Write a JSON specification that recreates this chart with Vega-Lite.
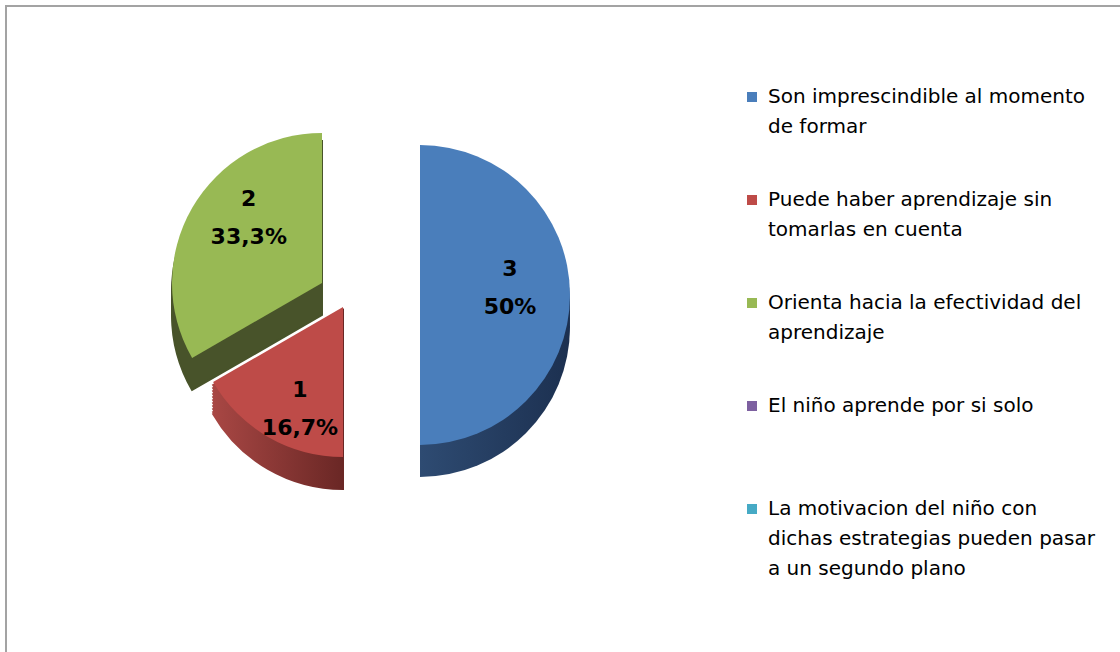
{
  "$schema": "https://vega.github.io/schema/vega-lite/v6.json",
  "width": 1122,
  "height": 654,
  "autosize": {"type": "none"},
  "padding": {"left": 6, "top": 6, "right": -8, "bottom": -8},
  "background": "white",
  "view": {"stroke": "#a3a3a3", "strokeWidth": 2},
  "config": {
    "view": {"stroke": "#a3a3a3", "strokeWidth": 2},
    "font": "DejaVu Sans",
    "style": {"guide-label": {"lineHeight": 30, "dy": -10}}
  },
  "data": {
    "values": [
      {"categoria": "Son imprescindible al momento de formar", "orden": 1, "n": 3, "pct": "50%"},
      {"categoria": "Puede haber aprendizaje sin tomarlas en cuenta", "orden": 2, "n": 1, "pct": "16,7%"},
      {"categoria": "Orienta hacia la efectividad del aprendizaje", "orden": 3, "n": 2, "pct": "33,3%"},
      {"categoria": "El niño aprende por si solo", "orden": 4, "n": 0, "pct": "0%"},
      {"categoria": "La motivacion del niño con dichas estrategias pueden pasar a un segundo plano", "orden": 5, "n": 0, "pct": "0%"}
    ]
  },
  "encoding": {
    "theta": {"field": "n", "type": "quantitative", "stack": true},
    "order": {"field": "orden", "type": "quantitative"}
  },
  "layer": [
    {"mark": {"type": "arc", "radius": 150, "xOffset": -245, "yOffset": -42, "color": "#48532a", "stroke": "#48532a", "strokeWidth": 2}, "encoding": {"detail": {"field": "categoria"}, "opacity": {"condition": {"test": "datum.orden === 3", "value": 1}, "value": 0}}},
    {"mark": {"type": "arc", "radius": 150, "xOffset": -245, "yOffset": -34, "color": "#48532a", "stroke": "#48532a", "strokeWidth": 2}, "encoding": {"detail": {"field": "categoria"}, "opacity": {"condition": {"test": "datum.orden === 3", "value": 1}, "value": 0}}},
    {"mark": {"type": "arc", "radius": 150, "xOffset": -245, "yOffset": -26, "color": "#48532a", "stroke": "#48532a", "strokeWidth": 2}, "encoding": {"detail": {"field": "categoria"}, "opacity": {"condition": {"test": "datum.orden === 3", "value": 1}, "value": 0}}},
    {"mark": {"type": "arc", "radius": 150, "xOffset": -245, "yOffset": -18, "color": "#48532a", "stroke": "#48532a", "strokeWidth": 2}, "encoding": {"detail": {"field": "categoria"}, "opacity": {"condition": {"test": "datum.orden === 3", "value": 1}, "value": 0}}},
    {"mark": {"type": "arc", "radius": 150, "xOffset": -224, "yOffset": -23, "strokeWidth": 2, "color": {"gradient": "linear", "x1": 0, "y1": 0, "x2": 1, "y2": 0, "stops": [{"offset": 0, "color": "#a84744"}, {"offset": 1, "color": "#6a2725"}]}, "stroke": {"gradient": "linear", "x1": 0, "y1": 0, "x2": 1, "y2": 0, "stops": [{"offset": 0, "color": "#a84744"}, {"offset": 1, "color": "#6a2725"}]}}, "encoding": {"detail": {"field": "categoria"}, "opacity": {"condition": {"test": "datum.orden === 2", "value": 1}, "value": 0}}},
    {"mark": {"type": "arc", "radius": 150, "xOffset": -224, "yOffset": -20, "strokeWidth": 2, "color": {"gradient": "linear", "x1": 0, "y1": 0, "x2": 1, "y2": 0, "stops": [{"offset": 0, "color": "#a84744"}, {"offset": 1, "color": "#6a2725"}]}, "stroke": {"gradient": "linear", "x1": 0, "y1": 0, "x2": 1, "y2": 0, "stops": [{"offset": 0, "color": "#a84744"}, {"offset": 1, "color": "#6a2725"}]}}, "encoding": {"detail": {"field": "categoria"}, "opacity": {"condition": {"test": "datum.orden === 2", "value": 1}, "value": 0}}},
    {"mark": {"type": "arc", "radius": 150, "xOffset": -224, "yOffset": -17, "strokeWidth": 2, "color": {"gradient": "linear", "x1": 0, "y1": 0, "x2": 1, "y2": 0, "stops": [{"offset": 0, "color": "#a84744"}, {"offset": 1, "color": "#6a2725"}]}, "stroke": {"gradient": "linear", "x1": 0, "y1": 0, "x2": 1, "y2": 0, "stops": [{"offset": 0, "color": "#a84744"}, {"offset": 1, "color": "#6a2725"}]}}, "encoding": {"detail": {"field": "categoria"}, "opacity": {"condition": {"test": "datum.orden === 2", "value": 1}, "value": 0}}},
    {"mark": {"type": "arc", "radius": 150, "xOffset": -224, "yOffset": -14, "strokeWidth": 2, "color": {"gradient": "linear", "x1": 0, "y1": 0, "x2": 1, "y2": 0, "stops": [{"offset": 0, "color": "#a84744"}, {"offset": 1, "color": "#6a2725"}]}, "stroke": {"gradient": "linear", "x1": 0, "y1": 0, "x2": 1, "y2": 0, "stops": [{"offset": 0, "color": "#a84744"}, {"offset": 1, "color": "#6a2725"}]}}, "encoding": {"detail": {"field": "categoria"}, "opacity": {"condition": {"test": "datum.orden === 2", "value": 1}, "value": 0}}},
    {"mark": {"type": "arc", "radius": 150, "xOffset": -224, "yOffset": -11, "strokeWidth": 2, "color": {"gradient": "linear", "x1": 0, "y1": 0, "x2": 1, "y2": 0, "stops": [{"offset": 0, "color": "#a84744"}, {"offset": 1, "color": "#6a2725"}]}, "stroke": {"gradient": "linear", "x1": 0, "y1": 0, "x2": 1, "y2": 0, "stops": [{"offset": 0, "color": "#a84744"}, {"offset": 1, "color": "#6a2725"}]}}, "encoding": {"detail": {"field": "categoria"}, "opacity": {"condition": {"test": "datum.orden === 2", "value": 1}, "value": 0}}},
    {"mark": {"type": "arc", "radius": 150, "xOffset": -224, "yOffset": -8, "strokeWidth": 2, "color": {"gradient": "linear", "x1": 0, "y1": 0, "x2": 1, "y2": 0, "stops": [{"offset": 0, "color": "#a84744"}, {"offset": 1, "color": "#6a2725"}]}, "stroke": {"gradient": "linear", "x1": 0, "y1": 0, "x2": 1, "y2": 0, "stops": [{"offset": 0, "color": "#a84744"}, {"offset": 1, "color": "#6a2725"}]}}, "encoding": {"detail": {"field": "categoria"}, "opacity": {"condition": {"test": "datum.orden === 2", "value": 1}, "value": 0}}},
    {"mark": {"type": "arc", "radius": 150, "xOffset": -224, "yOffset": -5, "strokeWidth": 2, "color": {"gradient": "linear", "x1": 0, "y1": 0, "x2": 1, "y2": 0, "stops": [{"offset": 0, "color": "#a84744"}, {"offset": 1, "color": "#6a2725"}]}, "stroke": {"gradient": "linear", "x1": 0, "y1": 0, "x2": 1, "y2": 0, "stops": [{"offset": 0, "color": "#a84744"}, {"offset": 1, "color": "#6a2725"}]}}, "encoding": {"detail": {"field": "categoria"}, "opacity": {"condition": {"test": "datum.orden === 2", "value": 1}, "value": 0}}},
    {"mark": {"type": "arc", "radius": 150, "xOffset": -224, "yOffset": -2, "strokeWidth": 2, "color": {"gradient": "linear", "x1": 0, "y1": 0, "x2": 1, "y2": 0, "stops": [{"offset": 0, "color": "#a84744"}, {"offset": 1, "color": "#6a2725"}]}, "stroke": {"gradient": "linear", "x1": 0, "y1": 0, "x2": 1, "y2": 0, "stops": [{"offset": 0, "color": "#a84744"}, {"offset": 1, "color": "#6a2725"}]}}, "encoding": {"detail": {"field": "categoria"}, "opacity": {"condition": {"test": "datum.orden === 2", "value": 1}, "value": 0}}},
    {"mark": {"type": "arc", "radius": 150, "xOffset": -224, "yOffset": 1, "strokeWidth": 2, "color": {"gradient": "linear", "x1": 0, "y1": 0, "x2": 1, "y2": 0, "stops": [{"offset": 0, "color": "#a84744"}, {"offset": 1, "color": "#6a2725"}]}, "stroke": {"gradient": "linear", "x1": 0, "y1": 0, "x2": 1, "y2": 0, "stops": [{"offset": 0, "color": "#a84744"}, {"offset": 1, "color": "#6a2725"}]}}, "encoding": {"detail": {"field": "categoria"}, "opacity": {"condition": {"test": "datum.orden === 2", "value": 1}, "value": 0}}},
    {"mark": {"type": "arc", "radius": 150, "xOffset": -224, "yOffset": 4, "strokeWidth": 2, "color": {"gradient": "linear", "x1": 0, "y1": 0, "x2": 1, "y2": 0, "stops": [{"offset": 0, "color": "#a84744"}, {"offset": 1, "color": "#6a2725"}]}, "stroke": {"gradient": "linear", "x1": 0, "y1": 0, "x2": 1, "y2": 0, "stops": [{"offset": 0, "color": "#a84744"}, {"offset": 1, "color": "#6a2725"}]}}, "encoding": {"detail": {"field": "categoria"}, "opacity": {"condition": {"test": "datum.orden === 2", "value": 1}, "value": 0}}},
    {"mark": {"type": "arc", "radius": 150, "xOffset": -224, "yOffset": 6, "strokeWidth": 2, "color": {"gradient": "linear", "x1": 0, "y1": 0, "x2": 1, "y2": 0, "stops": [{"offset": 0, "color": "#a84744"}, {"offset": 1, "color": "#6a2725"}]}, "stroke": {"gradient": "linear", "x1": 0, "y1": 0, "x2": 1, "y2": 0, "stops": [{"offset": 0, "color": "#a84744"}, {"offset": 1, "color": "#6a2725"}]}}, "encoding": {"detail": {"field": "categoria"}, "opacity": {"condition": {"test": "datum.orden === 2", "value": 1}, "value": 0}}},
    {"mark": {"type": "arc", "radius": 150, "xOffset": -147, "yOffset": -30, "color": {"gradient": "linear", "x1": 0, "y1": 0, "x2": 1, "y2": 0, "stops": [{"offset": 0, "color": "#2e4b72"}, {"offset": 1, "color": "#1c3050"}]}}, "encoding": {"detail": {"field": "categoria"}, "opacity": {"condition": {"test": "datum.orden === 1", "value": 1}, "value": 0}}},
    {"mark": {"type": "arc", "radius": 150, "xOffset": -147, "yOffset": -22, "color": {"gradient": "linear", "x1": 0, "y1": 0, "x2": 1, "y2": 0, "stops": [{"offset": 0, "color": "#2e4b72"}, {"offset": 1, "color": "#1c3050"}]}}, "encoding": {"detail": {"field": "categoria"}, "opacity": {"condition": {"test": "datum.orden === 1", "value": 1}, "value": 0}}},
    {"mark": {"type": "arc", "radius": 150, "xOffset": -147, "yOffset": -14, "color": {"gradient": "linear", "x1": 0, "y1": 0, "x2": 1, "y2": 0, "stops": [{"offset": 0, "color": "#2e4b72"}, {"offset": 1, "color": "#1c3050"}]}}, "encoding": {"detail": {"field": "categoria"}, "opacity": {"condition": {"test": "datum.orden === 1", "value": 1}, "value": 0}}},
    {"mark": {"type": "arc", "radius": 150, "xOffset": -147, "yOffset": -6, "color": {"gradient": "linear", "x1": 0, "y1": 0, "x2": 1, "y2": 0, "stops": [{"offset": 0, "color": "#2e4b72"}, {"offset": 1, "color": "#1c3050"}]}}, "encoding": {"detail": {"field": "categoria"}, "opacity": {"condition": {"test": "datum.orden === 1", "value": 1}, "value": 0}}},
    {
      "mark": {"type": "arc", "radius": 150, "xOffset": -245, "yOffset": -50},
      "encoding": {
        "color": {"field": "categoria", "type": "nominal", "scale": {"domain": ["Son imprescindible al momento de formar", "Puede haber aprendizaje sin tomarlas en cuenta", "Orienta hacia la efectividad del aprendizaje", "El niño aprende por si solo", "La motivacion del niño con dichas estrategias pueden pasar a un segundo plano"], "range": ["#4a7ebb", "#be4b48", "#98b954", "#7d60a0", "#46aac5"]},
          "legend": {"orient": "none", "legendX": 736, "legendY": 81, "title": null, "symbolType": "square", "symbolSize": 100, "symbolStrokeWidth": 0, "labelFontSize": 20, "labelFont": "DejaVu Sans", "labelColor": "black", "labelLimit": 400, "labelOffset": 6, "labelBaseline": "top", "rowPadding": 23, "padding": 0,
            "labelExpr": "datum.value == 'Son imprescindible al momento de formar' ? ['Son imprescindible al momento', 'de formar', ''] : datum.value == 'Puede haber aprendizaje sin tomarlas en cuenta' ? ['Puede haber aprendizaje sin', 'tomarlas en cuenta', ''] : datum.value == 'Orienta hacia la efectividad del aprendizaje' ? ['Orienta hacia la efectividad del', 'aprendizaje', ''] : datum.value == 'El niño aprende por si solo' ? ['El niño aprende por si solo', '', ''] : ['La motivacion del niño con', 'dichas estrategias pueden pasar', 'a un segundo plano']"}},
        "opacity": {"condition": {"test": "datum.orden === 3", "value": 1}, "value": 0}
      }
    },
    {
      "mark": {"type": "arc", "radius": 150, "xOffset": -224, "yOffset": -26},
      "encoding": {
        "color": {"field": "categoria", "type": "nominal"},
        "opacity": {"condition": {"test": "datum.orden === 2", "value": 1}, "value": 0}
      }
    },
    {
      "mark": {"type": "arc", "radius": 150, "xOffset": -147, "yOffset": -38},
      "encoding": {
        "color": {"field": "categoria", "type": "nominal"},
        "opacity": {"condition": {"test": "datum.orden === 1", "value": 1}, "value": 0}
      }
    },
    {
      "transform": [{"filter": "datum.n > 0"}],
      "mark": {"type": "text", "radius": 140, "xOffset": -197, "yOffset": -44, "dy": -20, "fontSize": 22, "fontWeight": "bold", "color": "black", "font": "DejaVu Sans"},
      "encoding": {"text": {"field": "n", "type": "quantitative"}, "detail": {"field": "categoria"}}
    },
    {
      "transform": [{"filter": "datum.n > 0"}],
      "mark": {"type": "text", "radius": 140, "xOffset": -197, "yOffset": -44, "dy": 18, "fontSize": 22, "fontWeight": "bold", "color": "black", "font": "DejaVu Sans"},
      "encoding": {"text": {"field": "pct", "type": "nominal"}, "detail": {"field": "categoria"}}
    }
  ]
}
